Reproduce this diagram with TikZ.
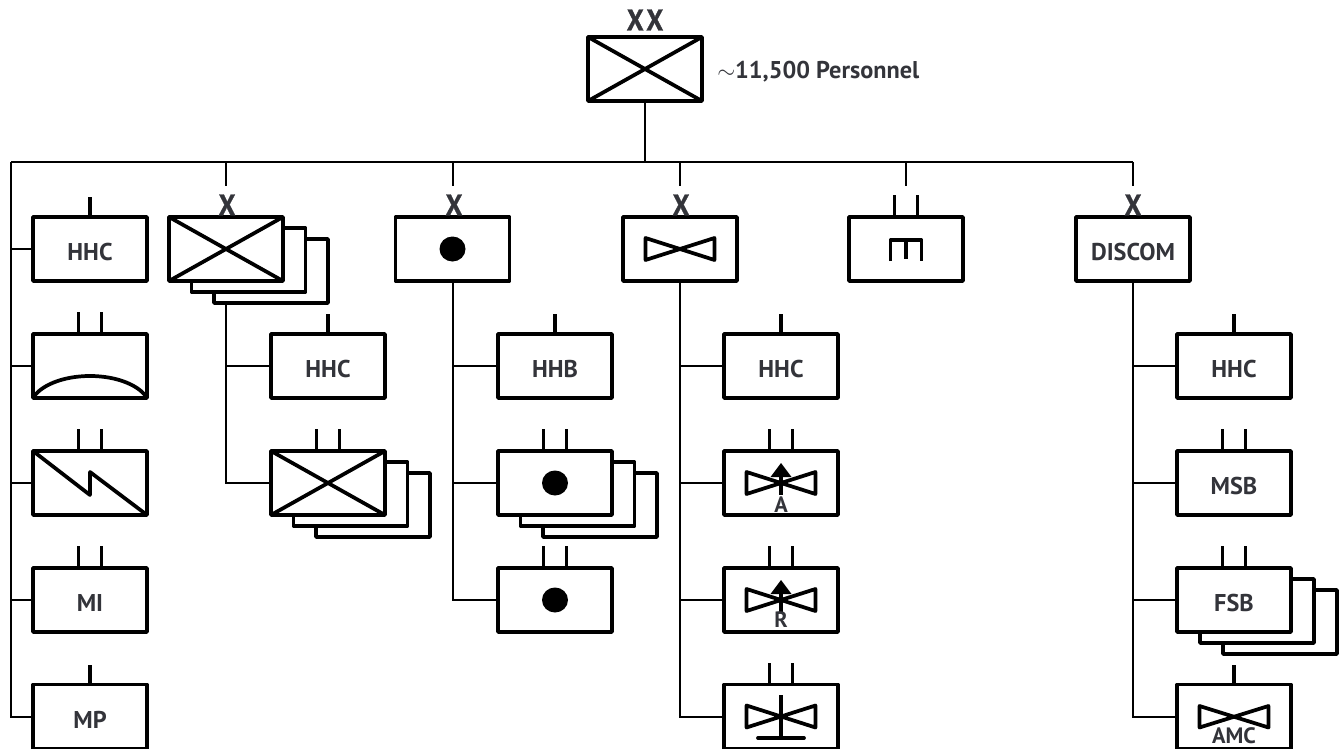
\documentclass[tikz,border=0pt]{standalone}
\usepackage{fontspec}
\setmainfont{PT Sans}
\newfontfamily\echfont[BoldFeatures={FakeBold=1.2}]{PT Sans}
\usetikzlibrary{backgrounds,calc}
\definecolor{ink}{HTML}{33343A}
\tikzset{
  x=.75pt,y=-.75pt,
  unit/.style={draw=black,fill=white,line width=2.8pt,line join=round,minimum width=85.5pt,minimum height=48pt,inner sep=0pt,outer sep=0pt},
  conn/.style={draw=black,line width=1.5pt},
  tick/.style={draw=black,line width=2.6pt},
  sym/.style={draw=black,line width=2.8pt,line join=round},
  lab/.style={text=ink,font=\bfseries\fontsize{18.2}{20}\selectfont,inner sep=0pt,yshift=-2.6pt},
  small/.style={text=ink,font=\bfseries\fontsize{16.7}{18}\selectfont,inner sep=0pt},
  ech/.style={text=ink,font=\echfont\bfseries\fontsize{20}{24}\selectfont,inner sep=0pt},
}
\newcommand{\Tall}[1]{\scalebox{1}[1.12]{#1}}
\newcommand{\OneTick}[1]{\draw[tick] (#1.north) -- ++(0,-20);}
\newcommand{\TwoTick}[1]{\draw[tick] ($(#1.north)+(-11.5,0)$) -- ++(0,-22);\draw[tick] ($(#1.north)+(11.5,0)$) -- ++(0,-22);}
\newcommand{\Bow}[1]{\draw[sym] ($(#1)+(-34.5,-11)$) -- ($(#1)+(34.5,11)$) -- ($(#1)+(34.5,-11)$) -- ($(#1)+(-34.5,11)$) -- cycle;}
\newcommand{\Cross}[1]{\draw[sym] (#1.north west) -- (#1.south east) (#1.north east) -- (#1.south west);}
\newcommand{\Dot}[1]{\fill[black] (#1) circle [x radius=13,y radius=12.5];}
\newcommand{\UpArrow}[1]{\draw[line width=2.6pt] ($(#1)+(0,-8)$) -- ($(#1)+(0,12)$);\fill[black] ($(#1)+(0,-20)$) -- ($(#1)+(10.5,-6)$) -- ($(#1)+(-10.5,-6)$) -- cycle;}
\begin{document}
\begin{tikzpicture}
\useasboundingbox (0,0) rectangle (1340,749);
% top
\node[unit] (top) at (645,69) {};
\Cross{top}
\node[ech] (xx) at (645,20) {\Tall{X}\hspace{2pt}\Tall{X}};
\node[text=ink,font=\bfseries\fontsize{18.2}{20}\selectfont,anchor=west,inner sep=0pt] (pers) at (717,72) {$\sim$11,500 Personnel};
\coordinate (busL) at (11,162);
\coordinate (busR) at (1133,162);
\coordinate (j) at (645,162);
% left column
\node[unit,label={[lab]center:HHC}] (a1) at (90,249) {};
\node[unit] (a2) at (90,366) {};
\node[unit] (a3) at (90,483) {};
\node[unit,label={[lab]center:MI}] (a4) at (90,600) {};
\node[unit,label={[lab]center:MP}] (a5) at (90,716.5) {};
\OneTick{a1}\TwoTick{a2}\TwoTick{a3}\TwoTick{a4}\OneTick{a5}
\draw[sym] (a2.south west) .. controls (40,386) and (62,376) .. (90,376) .. controls (118,376) and (140,386) .. (a2.south east);
\draw[sym] (a3.north west) -- (90,495) -- (90,472) -- (a3.south east);
% col 2
\node[unit] (b3) at (271,271) {};
\node[unit] (b2) at (248.5,260) {};
\node[unit] (b1) at (226,249) {};
\Cross{b1}
\node[ech] (bx) at (227,205) {\Tall{X}};
\node[unit,label={[lab]center:HHC}] (bc1) at (328,366) {};
\node[unit] (bc4) at (373,505) {};
\node[unit] (bc3) at (350.5,494) {};
\node[unit] (bc2) at (328,483) {};
\Cross{bc2}
\OneTick{bc1}\TwoTick{bc2}
% col 3
\node[unit] (c1) at (452.5,249) {};
\Dot{c1}
\node[ech] (cx) at (454,205) {\Tall{X}};
\node[unit,label={[lab]center:HHB}] (cc1) at (555,366) {};
\node[unit] (cc4) at (600,505) {};
\node[unit] (cc3) at (577.5,494) {};
\node[unit] (cc2) at (555,483) {};
\Dot{cc2}
\node[unit] (cc5) at (555,600) {};
\Dot{cc5}
\OneTick{cc1}\TwoTick{cc2}\TwoTick{cc5}
% col 4
\node[unit] (d1) at (680,249) {};
\Bow{d1}
\node[ech] (dx) at (681,205) {\Tall{X}};
\node[unit,label={[lab]center:HHC}] (dc1) at (781,366) {};
\node[unit] (dc2) at (781,483) {};
\Bow{dc2}\UpArrow{dc2}
\node[small] (dl2) at (781,505) {A};
\node[unit] (dc3) at (781,600) {};
\Bow{dc3}\UpArrow{dc3}
\node[small] (dl3) at (781,620) {R};
\node[unit] (dc4) at (781,716.5) {};
\Bow{dc4}
\draw[sym] ($(dc4)+(0,-21.5)$) -- ($(dc4)+(0,21.5)$);
\draw[sym,line cap=round] ($(dc4)+(-23,21.5)$) -- ($(dc4)+(23,21.5)$);
\OneTick{dc1}\TwoTick{dc2}\TwoTick{dc3}\TwoTick{dc4}
% col 5
\node[unit] (e1) at (906,249) {};
\TwoTick{e1}
\draw[sym] ($(e1)+(-15.5,12)$) -- ($(e1)+(-15.5,-9)$) -- ($(e1)+(15.5,-9)$) -- ($(e1)+(15.5,12)$);
\draw[sym] ($(e1)+(0,-9)$) -- ($(e1)+(0,10)$);
% col 6
\node[unit,label={[lab]center:DISCOM}] (f1) at (1133,249) {};
\node[ech] (fx) at (1133,205) {\Tall{X}};
\node[unit,label={[lab]center:HHC}] (fc1) at (1234,366) {};
\node[unit,label={[lab]center:MSB}] (fc2) at (1234,483) {};
\node[unit] (fc5) at (1280,622) {};
\node[unit] (fc4) at (1257,611) {};
\node[unit,label={[lab]center:FSB}] (fc3) at (1234,600) {};
\node[unit] (fc6) at (1234,716.5) {};
\draw[sym] ($(fc6)+(-34.5,-10.5)$) -- ($(fc6)+(34.5,11)$) -- ($(fc6)+(34.5,-10.5)$) -- ($(fc6)+(-34.5,11)$) -- cycle;
\node[small] (fl6) at (1234,736) {AMC};
\OneTick{fc1}\TwoTick{fc2}\TwoTick{fc3}\OneTick{fc6}
% connectors
\begin{scope}[on background layer]
\draw[conn] (busL) -- (busR);
\draw[conn] (top.south) -- (j);
\foreach \n in {a1,a2,a3,a4,a5} \draw[conn] (busL) |- (\n.west);
\foreach \n in {bc1,bc2} \draw[conn] (b1.south) |- (\n.west);
\foreach \n in {cc1,cc2,cc5} \draw[conn] (c1.south) |- (\n.west);
\foreach \n in {dc1,dc2,dc3,dc4} \draw[conn] (d1.south) |- (\n.west);
\foreach \n in {fc1,fc2,fc3,fc6} \draw[conn] (f1.south) |- (\n.west);
\foreach \xx/\m in {226/b,452.5/c,680/d,906/e,1133/f} {
  \coordinate (\m top) at (\xx,162);
  \coordinate (\m end) at (\xx,185.5);
  \draw[conn] (\m top) -- (\m end);
}
\end{scope}
\end{tikzpicture}
\end{document}
